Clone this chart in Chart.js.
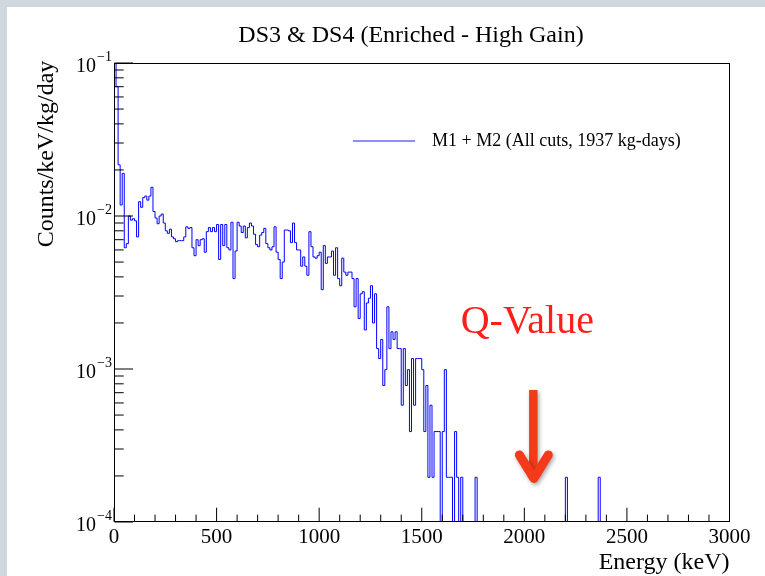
<!DOCTYPE html>
<html>
<head>
<meta charset="utf-8">
<title>DS3 &amp; DS4 (Enriched - High Gain)</title>
<script src="https://cdn.jsdelivr.net/npm/chart.js@4.4.1/dist/chart.umd.min.js"></script>
<style>
  html, body { margin: 0; padding: 0; background: #fff; }
  canvas { display: block; }
</style>
</head>
<body>
<canvas id="spectrum" width="765" height="576"></canvas>
<script>
// Energy spectrum, 10 keV bins, rate in counts/keV/kg/day
const binWidth = 10;

const rate0to500 = [
  0.15, 0.07, 0.0216, 0.0118, 0.019, 0.0062, 0.0066, 0.0100, 0.0094, 0.0096,
  0.0093, 0.0073, 0.0124, 0.0114, 0.0132, 0.0135, 0.0127, 0.0135, 0.0154, 0.0107,
  0.0097, 0.0089, 0.0100, 0.0103, 0.0090, 0.0080, 0.0077, 0.0082, 0.0073, 0.0071,
  0.0068, 0.0069, 0.0069, 0.0069, 0.0073, 0.0085, 0.0083, 0.0084, 0.0062, 0.0055,
  0.0070, 0.0064, 0.0070, 0.0071, 0.0058, 0.0079, 0.0084, 0.0079, 0.0084, 0.0079
];
const rate500to1000 = [
  0.0088, 0.0052, 0.0088, 0.0064, 0.0088, 0.0062, 0.0060, 0.0091, 0.0039, 0.0059,
  0.0091, 0.0086, 0.0078, 0.0086, 0.0072, 0.0084, 0.0090, 0.0086, 0.0076, 0.0065,
  0.0063, 0.0075, 0.0078, 0.0083, 0.0066, 0.0062, 0.0060, 0.0063, 0.0085, 0.0058,
  0.0052, 0.0039, 0.0050, 0.0081, 0.0081, 0.0080, 0.0067, 0.0090, 0.0067, 0.0060,
  0.0060, 0.0047, 0.0054, 0.0047, 0.0041, 0.0079, 0.0063, 0.0054, 0.0053, 0.0055
];
const rate1000to1500 = [
  0.0058, 0.0033, 0.0064, 0.0049, 0.0054, 0.0054, 0.0059, 0.0041, 0.0062, 0.0039,
  0.0035, 0.0053, 0.0043, 0.0041, 0.0043, 0.0043, 0.0039, 0.00255, 0.0039, 0.00214,
  0.0031, 0.0032, 0.0018, 0.0027, 0.0029, 0.0035, 0.0020, 0.0031, 0.00136, 0.00117,
  0.00156, 0.00078, 0.00099, 0.00255, 0.00136, 0.00175, 0.00156, 0.00175, 0.00136, 0.00136,
  0.00058, 0.00136, 0.00078, 0.00099, 0.00039, 0.00117, 0.00058, 0.00117, 0.00117, 0.00117
];
const rate1500to3000 = [
  0.00099, 0.00039, 0.00078, 0.000196, 0.00058, 0.000196, 0.00039, 0.00039, 0.00039, 0,
  0.00039, 0.00099, 0.000196, 0.000196, 0.000196, 0, 0.00039, 0.000196, 0, 0.000196,
  0, 0, 0, 0, 0, 0, 0.000196, 0, 0, 0,
  0, 0, 0, 0, 0, 0, 0, 0, 0, 0,
  0, 0, 0, 0, 0, 0, 0, 0, 0, 0,
  0, 0, 0, 0, 0, 0, 0, 0, 0, 0,
  0, 0, 0, 0, 0, 0, 0, 0, 0, 0,
  0.000196, 0, 0, 0, 0, 0, 0, 0, 0, 0,
  0, 0, 0, 0, 0, 0, 0.000196, 0, 0, 0,
  0, 0, 0, 0, 0, 0, 0, 0, 0, 0,
  0, 0, 0, 0, 0, 0, 0, 0, 0, 0,
  0, 0, 0, 0, 0, 0, 0, 0, 0, 0,
  0, 0, 0, 0, 0, 0, 0, 0, 0, 0,
  0, 0, 0, 0, 0, 0, 0, 0, 0, 0,
  0, 0, 0, 0, 0, 0, 0, 0, 0, 0
];

const xTickLabels = [0, 500, 1000, 1500, 2000, 2500, 3000];
const yTickExponents = [-4, -3, -2, -1];
const xMin = 0, xMax = 3000;
const yMin = 1e-4, yMax = 1e-1;

// Q-value marker (keV) and arrow extent in rate units
const qValue = 2039;
const arrowTopRate = 7.3e-4;
const arrowTipRate = 1.8e-4;
const qLabelRate = 1.72e-3;

const rates = rate0to500.concat(rate500to1000, rate1000to1500, rate1500to3000);

// left bin edges; empty bins sit on the bottom of the log axis
const points = rates.map((v, i) => ({ x: i * binWidth, y: v > 0 ? v : yMin }));
points.push({ x: rates.length * binWidth, y: points[points.length - 1].y });

const serif = "'Liberation Serif', 'Times New Roman', serif";

function line(ctx, x1, y1, x2, y2) {
  ctx.beginPath();
  ctx.moveTo(x1, y1);
  ctx.lineTo(x2, y2);
  ctx.stroke();
}

const rootStyle = {
  id: 'rootStyle',
  beforeDraw(chart) {
    const ctx = chart.ctx;
    ctx.save();
    ctx.fillStyle = '#ffffff';
    ctx.fillRect(0, 0, chart.width, chart.height);
    ctx.fillStyle = '#cfd8de';
    ctx.fillRect(0, 0, chart.width, 7);
    ctx.fillRect(0, 0, 7, chart.height);
    ctx.restore();
  },
  afterDraw(chart) {
    const { ctx, chartArea: a } = chart;
    const xs = chart.scales.x, ys = chart.scales.y;
    const xl = Math.round(a.left) + 0.5;
    const xr = Math.round(a.right) - 0.5;
    const yt = Math.round(a.top) + 0.5;
    const yb = Math.round(a.bottom) - 0.5;

    ctx.save();
    ctx.strokeStyle = '#000';
    ctx.lineWidth = 1;
    ctx.strokeRect(xl, yt, xr - xl, yb - yt);

    // x ticks point into the frame: long every 500, short every 100
    for (let e = xMin; e <= xMax; e += 100) {
      const px = xs.getPixelForValue(e);
      const len = xTickLabels.includes(e) ? 13.8 : 6.9;
      line(ctx, px, yb, px, yb - len);
    }
    // log y ticks: decades plus 2..9 minors
    yTickExponents.forEach(k => {
      const py = ys.getPixelForValue(Math.pow(10, k));
      line(ctx, xl, py, xl + 18.5, py);
      if (k < -1) {
        for (let m = 2; m <= 9; m++) {
          const pm = ys.getPixelForValue(m * Math.pow(10, k));
          line(ctx, xl, pm, xl + 9.2, pm);
        }
      }
    });

    ctx.fillStyle = '#000';
    // x tick labels
    ctx.font = '21px ' + serif;
    ctx.textAlign = 'center';
    ctx.textBaseline = 'middle';
    xTickLabels.forEach(v => {
      ctx.fillText(String(v), xs.getPixelForValue(v), yb + 16);
    });

    // y tick labels 10^k
    yTickExponents.forEach(k => {
      const py = ys.getPixelForValue(Math.pow(10, k));
      const sup = '\u2212' + Math.abs(k);
      ctx.font = '14px ' + serif;
      const supW = ctx.measureText(sup).width;
      ctx.textAlign = 'right';
      ctx.fillText(sup, a.left - 2, py - 6);
      ctx.font = '20px ' + serif;
      ctx.fillText('10', a.left - 3 - supW, py + 4);
    });

    // titles
    ctx.font = '24px ' + serif;
    ctx.textAlign = 'center';
    ctx.fillText('DS3 & DS4 (Enriched - High Gain)', 411, 36);
    ctx.textAlign = 'right';
    ctx.fillText('Energy (keV)', a.right, 563);
    ctx.save();
    ctx.translate(47, 154);
    ctx.rotate(-Math.PI / 2);
    ctx.textAlign = 'center';
    ctx.fillText('Counts/keV/kg/day', 0, 0);
    ctx.restore();

    // legend entry
    ctx.strokeStyle = '#1a1aff';
    ctx.lineWidth = 1;
    line(ctx, 353, 141, 415, 141);
    ctx.font = '18px ' + serif;
    ctx.textAlign = 'left';
    ctx.fillText('M1 + M2 (All cuts, 1937 kg-days)', 432, 141);

    // Q-value label and arrow
    const qx = xs.getPixelForValue(qValue);
    const top = ys.getPixelForValue(arrowTopRate);
    const tip = ys.getPixelForValue(arrowTipRate);
    ctx.fillStyle = '#ff1f1a';
    ctx.font = '40px ' + serif;
    ctx.textAlign = 'center';
    ctx.textBaseline = 'alphabetic';
    ctx.fillText('Q-Value', qx - 5, ys.getPixelForValue(qLabelRate));

    ctx.shadowColor = 'rgba(0, 0, 0, 0.35)';
    ctx.shadowBlur = 4;
    ctx.shadowOffsetX = 1.5;
    ctx.shadowOffsetY = 2;
    ctx.strokeStyle = '#f5391b';
    ctx.lineWidth = 8.5;
    ctx.lineCap = 'butt';
    line(ctx, qx + 1, top, qx + 1, tip - 8);
    ctx.lineWidth = 9;
    ctx.lineCap = 'round';
    ctx.lineJoin = 'round';
    ctx.beginPath();
    ctx.moveTo(qx - 13, tip - 28);
    ctx.lineTo(qx + 1.5, tip - 4.5);
    ctx.lineTo(qx + 16, tip - 28);
    ctx.stroke();
    ctx.restore();
  }
};

new Chart(document.getElementById('spectrum'), {
  type: 'line',
  data: {
    datasets: [{
      label: 'M1 + M2 (All cuts, 1937 kg-days)',
      data: points,
      borderColor: '#0000ff',
      borderWidth: 1,
      pointRadius: 0,
      stepped: 'before',
      fill: false,
      tension: 0
    }]
  },
  options: {
    responsive: false,
    animation: false,
    events: [],
    layout: { padding: { left: 114, top: 63, right: 35.5, bottom: 54 } },
    scales: {
      x: { type: 'linear', min: xMin, max: xMax, display: false },
      y: { type: 'logarithmic', min: yMin, max: yMax, display: false }
    },
    plugins: {
      legend: { display: false },
      tooltip: { enabled: false },
      title: { display: false }
    }
  },
  plugins: [rootStyle]
});
</script>
</body>
</html>
